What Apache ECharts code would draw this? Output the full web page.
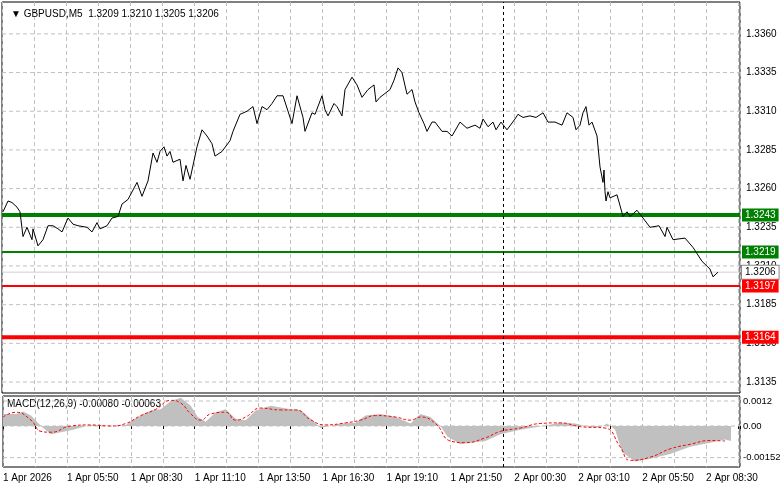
<!DOCTYPE html>
<html>
<head>
<meta charset="utf-8">
<script src="https://cdn.jsdelivr.net/npm/echarts@6/dist/echarts.min.js"></script>
<style>
html,body{margin:0;padding:0;background:#fff;}
#chart{width:781px;height:489px;}
</style>
</head>
<body>
<div id="chart"></div>
<script>
// 价格折线（M5 柱序号 / 收盘价）
var priceBars = [0.5,3,5,7.5,9,10.5,12.5,15,15.5,18,20.5,23,25.5,28,30,33,35.5,38,42.5,45,47.5,49,52.5,55,58,60,63,67.5,70,73,75.5,77.5,79,81,82.5,84,85.5,89,90.5,92,94,95,97.5,100,102.5,105,106.5,110,114,115.5,119,122.5,125.5,127.5,130,132.5,135,137.5,140.5,145,147.5,150.5,151.5,155,156.5,160,161.5,163,166,167.5,170,171.5,175,177.5,180,183,186,187,189,194,196,198,200,202.5,205,206.5,208.5,211,212.5,215,216.5,220,222.5,225,229,232.5,236.5,239,240.5,243,245.5,247,249.5,252.5,256.5,258,260.5,264,267,270.5,273,276.5,280,282.5,285.5,287,289,290.5,292,293.5,295,297.5,299,300.5,301,301.5,302,303,304,307.5,310.5,312.5,314,317.5,320.5,324,328.5,331.5,332.5,335.5,341.5,345.5,350,354,355.5,358,360,361,362];
var priceVals = [1.3245,1.3252,1.3251,1.3248,1.3245,1.3229,1.3235,1.3227,1.3234,1.3223,1.3227,1.3236,1.3236,1.3234,1.3232,1.3241,1.3237,1.3236,1.3235,1.3232,1.3238,1.3234,1.3236,1.3241,1.3242,1.3250,1.3253,1.3264,1.3255,1.3265,1.3283,1.3277,1.3284,1.3287,1.3281,1.3284,1.3277,1.3279,1.3265,1.3275,1.3266,1.3272,1.3287,1.3298,1.3294,1.3289,1.3281,1.3284,1.3291,1.3297,1.3308,1.3310,1.3313,1.3302,1.3313,1.3311,1.3315,1.3320,1.3320,1.3302,1.3320,1.3306,1.3297,1.3309,1.3308,1.3320,1.3311,1.3307,1.3315,1.3313,1.3307,1.3324,1.3332,1.3327,1.3319,1.3324,1.3327,1.3316,1.3319,1.3324,1.3330,1.3338,1.3335,1.3321,1.3324,1.3316,1.3309,1.3302,1.3297,1.3303,1.3303,1.3297,1.3297,1.3294,1.3303,1.3299,1.3301,1.3299,1.3305,1.3300,1.3303,1.3298,1.3303,1.3298,1.3305,1.3308,1.3306,1.3307,1.3306,1.3309,1.3303,1.3303,1.3301,1.3309,1.3306,1.3298,1.3301,1.3309,1.3313,1.3301,1.3303,1.3294,1.3274,1.3264,1.3272,1.3258,1.3252,1.3258,1.3254,1.3256,1.3242,1.3245,1.3242,1.3246,1.3241,1.3235,1.3236,1.3229,1.3235,1.3227,1.3228,1.3222,1.3213,1.3208,1.3203,1.3206];

// MACD 柱（灰）与信号线（红虚线）
var histBars = [0,6.5,10,14,19,24,34,44,54,61.5,66,74,79,84,89,94,97.5,101.5,106.5,111.5,116.5,121.5,126.5,134,144,149,155,159,169,176.5,181.5,189,196.5,204,209,214,219,222.5,229,234,241.5,249,259,269,279,286.5,294,299,302.5,306.5,310,316.5,324,334,344,354,361.5,364.5];
var histVals = [0.00058,0.00058,0.0007,0.0005,0,-0.0004,-0.0002,0.00005,0,0.00005,0.00035,0.00074,0.0008,0.0012,0.00135,0.00097,0.00043,0.0002,0.00066,0.0008,0.00035,0.00028,0.00074,0.00097,0.0008,0.00077,0.00028,-0.0001,0.00012,0.00015,0.0005,0.00058,0.00043,0.00012,0.00058,0.00043,0,-0.0005,-0.00088,-0.0008,-0.00072,-0.0004,-0.00018,-0.00003,0.00015,0.00012,-0.00006,-0.00006,0.00012,-0.00018,-0.00126,-0.0017,-0.00157,-0.00134,-0.001,-0.0008,-0.00065,-0.00072,-0.001];
var sigBars = [0,6.5,14,19,24,34,44,54,61.5,69,76.5,84,89,94,99,104,111.5,116.5,121.5,129,139,146.5,154,161.5,171.5,179,186.5,196.5,204,209,216.5,224,231.5,241.5,249,259,269,279,289,301.5,309,314,324,334,344,354,361.5];
var sigVals = [0.00043,0.00066,0.00028,-0.00026,-0.0003,0,0.00005,0,0.00012,0.0005,0.0008,0.00123,0.0011,0.00058,0.00028,0.00058,0.00066,0.00028,0.00043,0.00086,0.00077,0.00077,0.0003,0.00005,0.00015,0.00028,0.0005,0.00043,0.00028,0.00043,0.00012,-0.00072,-0.0008,-0.00057,-0.00026,-0.0001,0.00012,0.00015,-0.00003,-0.0001,-0.001,-0.00165,-0.0015,-0.0011,-0.00088,-0.0007,-0.00072];

// 刻度与水平位
var priceTicks = [1.3135,1.3160,1.3185,1.3210,1.3235,1.3260,1.3285,1.3310,1.3335,1.3360];
var macdTicks = [0.0012,0,-0.00152];
var macdTickText = ['0.0012','0.00','-0.00152'];
var timeLabels = ['1 Apr 2026','1 Apr 05:50','1 Apr 08:30','1 Apr 11:10','1 Apr 13:50','1 Apr 16:30','1 Apr 19:10','1 Apr 21:50','2 Apr 00:30','2 Apr 03:10','2 Apr 05:50','2 Apr 08:30'];
var levelVals = [1.3243,1.3219,1.3197,1.3164];
var levelColors = ['#008000','#008000','#ff0000','#ff0000'];
var levelWidths = [4,2,2,4];
var lastPrice = 1.3206;
var daySplitBar = 250.5;

var X_MAX = 369;
var font = 'Liberation Sans';
function pairs(xs, ys){ return xs.map(function(x,i){ return [x, ys[i]]; }); }

// 水平线：用两点折线 + endLabel 画出
function hLine(axis, v, text, lineStyle, labelStyle, z){
  return {type:'line', xAxisIndex:axis, yAxisIndex:axis, data:[[0,v],[X_MAX,v]],
    showSymbol:false, silent:true, z:z, lineStyle:lineStyle,
    endLabel:Object.assign({show:true, formatter:text, fontSize:10, fontFamily:font, distance:3}, labelStyle)};
}

var series = [];
priceTicks.forEach(function(v){
  series.push(hLine(0, v, v.toFixed(4), {color:'#c0c0c0', type:[4,3], width:1}, {color:'#000', distance:6}, 1));
});
macdTicks.forEach(function(v,i){
  series.push(hLine(1, v, macdTickText[i], {color:'#c0c0c0', type:[4,3], width:1}, {color:'#000', distance:3, fontSize:9.5}, 1));
});
series.push({type:'line', xAxisIndex:1, yAxisIndex:1, data:pairs(histBars, histVals),
  showSymbol:false, silent:true, lineStyle:{width:0}, areaStyle:{color:'#c0c0c0', opacity:1, origin:0}, z:2});
series.push({type:'line', xAxisIndex:1, yAxisIndex:1, data:pairs(sigBars, sigVals),
  showSymbol:false, silent:true, smooth:true, lineStyle:{color:'#ff0000', width:1, type:[3,2]}, z:5});
series.push(hLine(0, lastPrice, lastPrice.toFixed(4), {color:'#d0d0d0', width:1},
  {color:'#000', backgroundColor:'#fff', borderColor:'#888', borderWidth:1, padding:[2,3,1,3], distance:2}, 3));
levelVals.forEach(function(v,i){
  series.push(hLine(0, v, v.toFixed(4), {color:levelColors[i], width:levelWidths[i]},
    {color:'#fff', backgroundColor:levelColors[i], padding:[2,3,1,3], distance:2}, 4));
});
series.push({type:'line', xAxisIndex:0, yAxisIndex:0, data:pairs(priceBars, priceVals),
  showSymbol:false, silent:true, lineStyle:{color:'#000', width:1}, z:6});
[0,1].forEach(function(a){
  series.push({type:'line', xAxisIndex:a, yAxisIndex:a, data:[],
    markLine:{symbol:'none', silent:true, label:{show:false},
      lineStyle:{color:'#000', type:[3,3], width:1}, data:[{xAxis:daySplitBar}]}});
});

var myCharts = echarts.init(document.getElementById('chart'));
var option = {
  animation:false,
  backgroundColor:'#fff',
  title:{
    text:'▼ GBPUSD,M5  1.3209 1.3210 1.3205 1.3206',
    left:6, top:4,
    textStyle:{fontSize:10, fontWeight:'normal', color:'#000', fontFamily:font}
  },
  graphic:[{type:'text', left:7, top:399,
    style:{text:'MACD(12,26,9) -0.00080 -0.00063', fontSize:10, fill:'#000', fontFamily:font}}],
  grid:[
    {left:2, top:2, width:738, height:391, show:true, borderColor:'#000', borderWidth:1},
    {left:2, top:396, width:738, height:71, show:true, borderColor:'#000', borderWidth:1}
  ],
  xAxis:[
    {gridIndex:0, type:'value', min:0, max:X_MAX, interval:16,
      axisLine:{show:false}, axisTick:{show:false}, axisLabel:{show:false},
      splitLine:{show:true, lineStyle:{color:'#c0c0c0', type:[4,3]}}},
    {gridIndex:1, type:'value', min:0, max:X_MAX, interval:16,
      axisLine:{show:false}, axisTick:{show:true, length:3, lineStyle:{color:'#000'}},
      axisLabel:{show:true, color:'#000', fontSize:10, fontFamily:font, align:'left', margin:6,
        formatter:function(v){ return v % 32 === 0 ? (timeLabels[v/32] || '') : ''; }},
      splitLine:{show:true, lineStyle:{color:'#c0c0c0', type:[4,3]}}}
  ],
  yAxis:[
    {gridIndex:0, type:'value', min:1.31279, max:1.33806, position:'right',
      axisLine:{show:false}, axisTick:{show:false}, axisLabel:{show:false}, splitLine:{show:false}},
    {gridIndex:1, type:'value', min:-0.00197, max:0.00144, position:'right',
      axisLine:{show:false}, axisTick:{show:false}, axisLabel:{show:false}, splitLine:{show:false}}
  ],
  series:series
};
myCharts.setOption(option);
window.addEventListener('resize', function(){ myCharts.resize(); });
</script>
</body>
</html>
